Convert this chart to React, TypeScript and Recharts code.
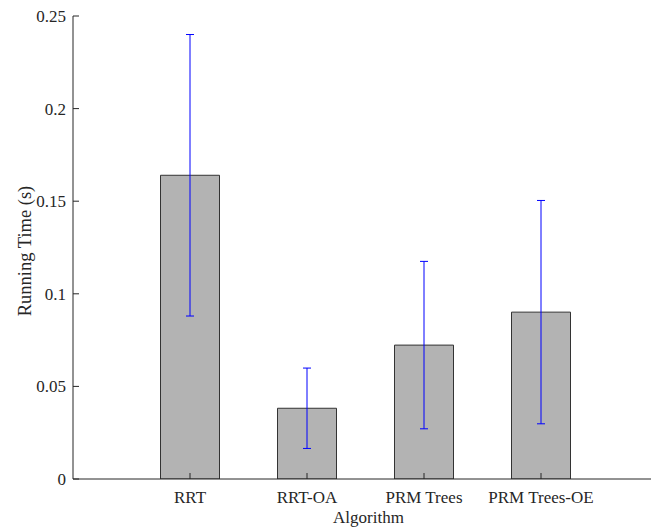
import { BarChart, Bar, XAxis, YAxis, ErrorBar, Label } from 'recharts';

const algorithms = ['RRT', 'RRT-OA', 'PRM Trees', 'PRM Trees-OE'];
const meanTime = [0.164, 0.0382, 0.0723, 0.0901];
const stdTime = [0.076, 0.0217, 0.0452, 0.0603];
const yTicks = [0, 0.05, 0.1, 0.15, 0.2, 0.25];

const rows = algorithms.map((name, i) => ({ name, time: meanTime[i], err: stdTime[i] }));

const FONT = '"Liberation Serif", "Times New Roman", serif';
const INK = '#262626';

// eslint-disable-next-line @typescript-eslint/no-explicit-any
function BottomTick({ x, y, payload }: any) {
  return (
    <text x={x} y={y} dy="0.71em" textAnchor="middle" fill={INK} fontSize={17} fontFamily={FONT}>
      {payload.value}
    </text>
  );
}

// eslint-disable-next-line @typescript-eslint/no-explicit-any
function LeftTick({ x, y, payload }: any) {
  return (
    <text x={x} y={y} dy="0.355em" textAnchor="end" fill={INK} fontSize={17} fontFamily={FONT}>
      {String(payload.value)}
    </text>
  );
}

export default function App() {
  return (
    <div
      style={{
        position: 'absolute',
        left: 0,
        top: 0,
        width: 651,
        height: 529,
        overflow: 'hidden',
        background: '#fff',
        fontFamily: FONT,
      }}
    >
      <BarChart width={660} height={529} data={rows} margin={{ top: 16, right: 2, left: 0, bottom: 0 }}>
        {/* top edge of the MATLAB-style box, with inward ticks */}
        <XAxis
          xAxisId="top"
          orientation="top"
          dataKey="name"
          height={0}
          padding={{ left: 58.5, right: 58.5 }}
          stroke={INK}
          tickSize={-6}
          tickFormatter={() => ''}
        />
        <XAxis
          dataKey="name"
          height={50}
          padding={{ left: 58.5, right: 58.5 }}
          stroke={INK}
          tickSize={-6}
          tickMargin={18}
          tick={<BottomTick />}
        >
          <Label
            content={() => (
              <text x={368.5} y={523} textAnchor="middle" fill={INK} fontSize={17} fontFamily={FONT}>
                Algorithm
              </text>
            )}
          />
        </XAxis>
        <YAxis
          width={73}
          domain={[0, 0.25]}
          ticks={yTicks}
          allowDataOverflow
          stroke={INK}
          tickSize={-6}
          tickMargin={13}
          tick={<LeftTick />}
        >
          <Label
            content={() => (
              <text
                x={0}
                y={0}
                transform="translate(31,251) rotate(-90)"
                textAnchor="middle"
                fill={INK}
                fontSize={18.5}
                fontFamily={FONT}
              >
                Running Time (s)
              </text>
            )}
          />
        </YAxis>
        <Bar
          dataKey="time"
          barSize={59}
          fill="#b3b3b3"
          stroke="#333333"
          strokeWidth={1}
          isAnimationActive={false}
        >
          <ErrorBar dataKey="err" width={4} stroke="#0000ff" strokeWidth={1} isAnimationActive={false} />
        </Bar>
      </BarChart>
    </div>
  );
}
